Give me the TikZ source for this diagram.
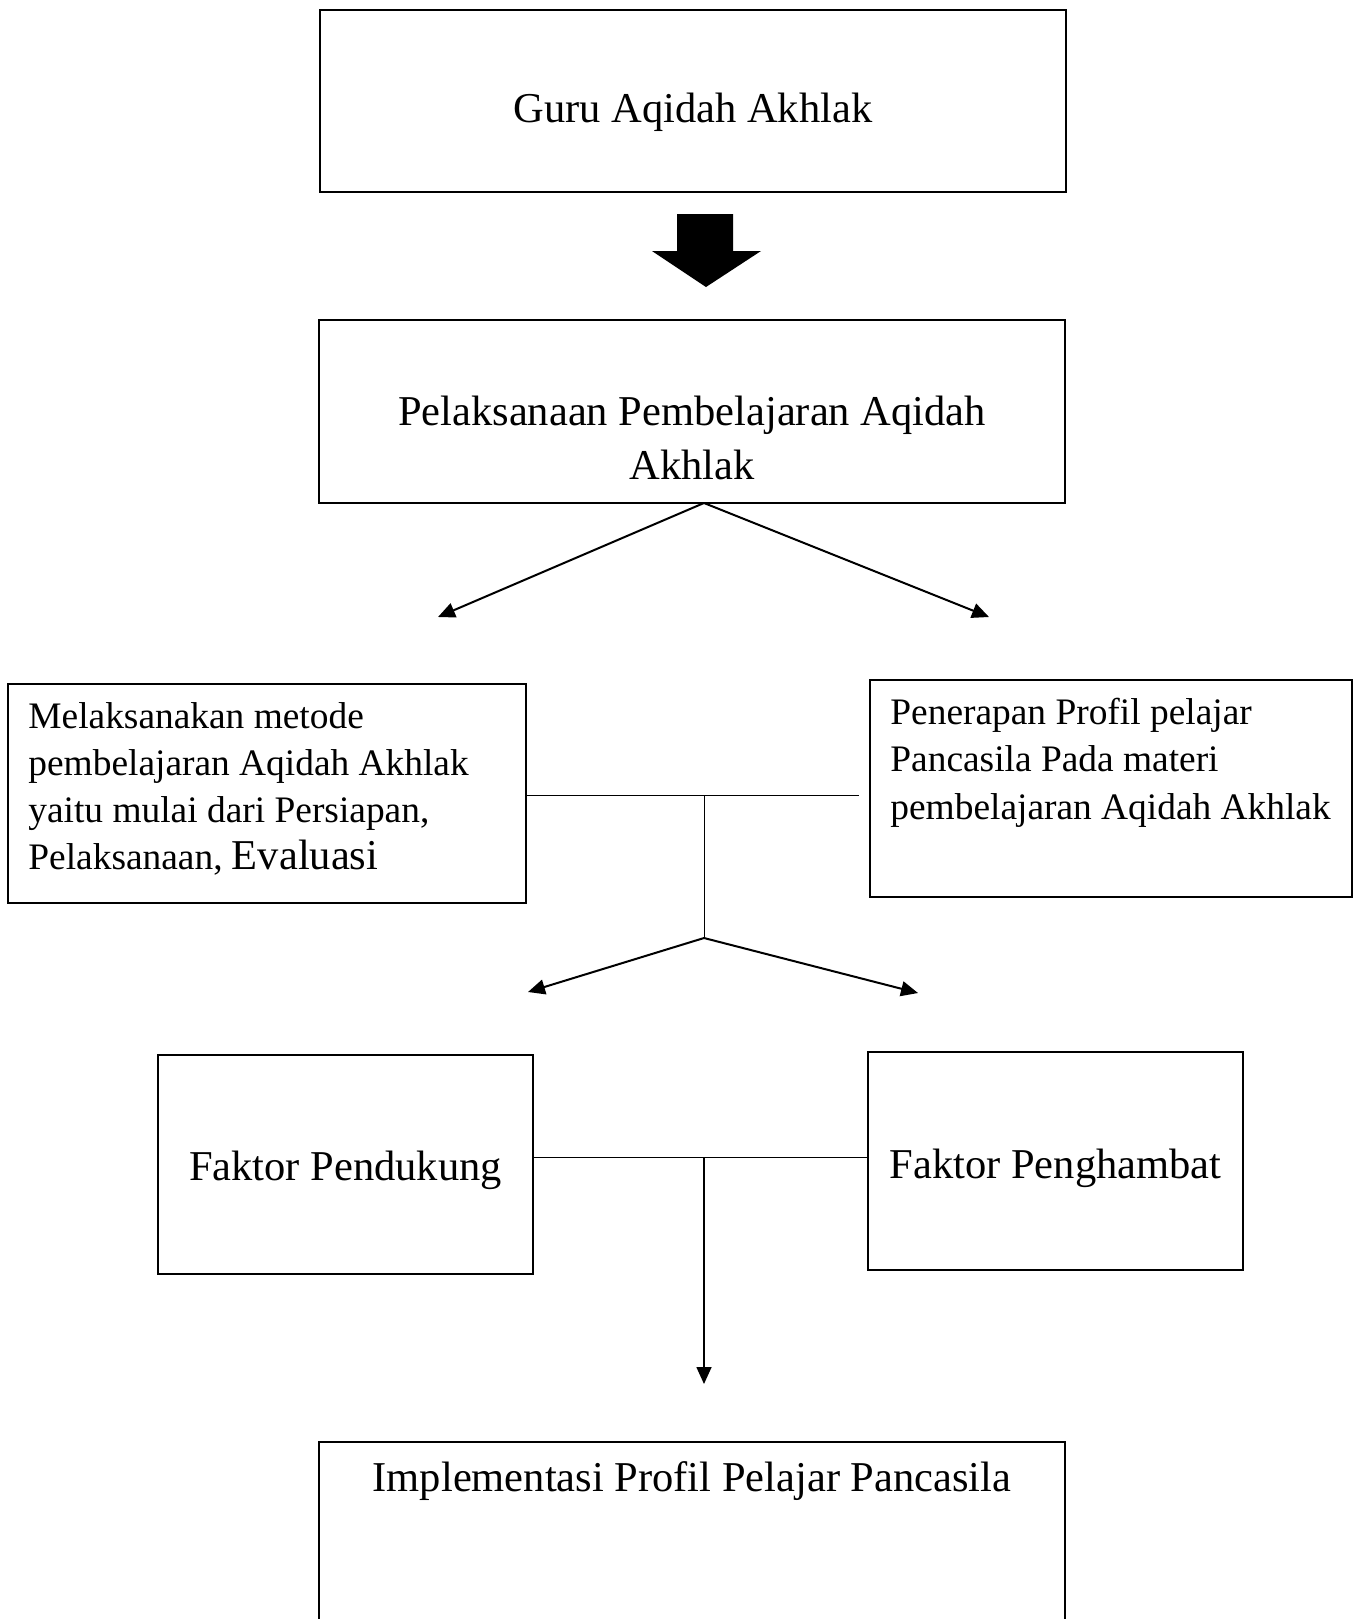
\documentclass[tikz,border=0pt]{standalone}
\usepackage{fontspec}
\setmainfont{Liberation Serif}
\usetikzlibrary{arrows.meta,positioning}
\tikzset{
  box/.style={draw,rectangle,line width=0.6pt,inner sep=0pt},
  big/.style={font=\fontsize{21.25}{27}\selectfont},
  small/.style={font=\fontsize{18.7}{23.6}\selectfont},
  txt/.style={inner sep=0pt},
  arr/.style={line width=1pt,-{Triangle[length=8.5pt,width=7.5pt]}},
  link/.style={line width=0.5pt}
}
\begin{document}
\begin{tikzpicture}[x=0.5pt,y=-0.5pt]
\useasboundingbox (0,0) rectangle (1358,1619);
\clip (0,0) rectangle (1358,1619);
% boxes
\node[box,minimum width=373pt,minimum height=91pt] (guru) at (693,101) {};
\node[txt,big] (guru-txt) at (693,112) {Guru Aqidah Akhlak};
\node[box,minimum width=373pt,minimum height=91.5pt] (pelaksanaan) at (692,411.5) {};
\node[txt,big,anchor=north,align=center] (pelaksanaan-txt) at (692,396) {Pelaksanaan Pembelajaran Aqidah\\Akhlak};
\node[box,minimum width=259pt,minimum height=109.5pt] (metode) at (267,793.5) {};
\node[txt,small,anchor=north west,align=left] (metode-txt) at (28,702) {Melaksanakan metode\\pembelajaran Aqidah Akhlak\\yaitu mulai dari Persiapan,\\Pelaksanaan, {\fontsize{21.25}{27}\selectfont Evaluasi}};
\node[box,minimum width=241pt,minimum height=108.5pt] (penerapan) at (1111,788.5) {};
\node[txt,small,anchor=north west,align=left] (penerapan-txt) at (890,698) {Penerapan Profil pelajar\\Pancasila Pada materi\\pembelajaran Aqidah Akhlak};
\node[box,minimum width=187.5pt,minimum height=109.5pt] (pendukung) at (345.5,1164.5) {};
\node[txt,big] (pendukung-txt) at (345.5,1170.5) {Faktor Pendukung};
\node[box,minimum width=187.5pt,minimum height=109pt] (penghambat) at (1055.5,1161) {};
\node[txt,big] (penghambat-txt) at (1055.5,1168) {Faktor Penghambat};
\node[box,minimum width=373pt,minimum height=129pt] (implementasi) at (692,1571) {};
\node[txt,big,anchor=north] (implementasi-txt) at (692,1461) {Implementasi Profil Pelajar Pancasila};
% block arrow
\fill (677,214) -- (733,214) -- (733,251) -- (761,251) -- (706,287) -- (652,251) -- (677,251) -- cycle;
% connectors
\coordinate (top) at (704,503);
\coordinate (a1) at (438,617);
\coordinate (a2) at (989,617);
\draw[arr] (top) -- (a1);
\draw[arr] (top) -- (a2);
\coordinate (j1) at (704,795);
\coordinate (j2) at (704,938);
\draw[link] (metode.east |- j1) -- (j1) -- ([xshift=-5pt]penerapan.west |- j1);
\draw[link] (j1) -- (j2);
\coordinate (b1) at (528,992);
\coordinate (b2) at (918,993);
\draw[arr] (j2) -- (b1);
\draw[arr] (j2) -- (b2);
\coordinate (j3) at (704,1157);
\coordinate (c1) at (704,1384);
\draw[link] (pendukung.east |- j3) -- (penghambat.west |- j3);
\draw[arr,line width=0.8pt] (j3) -- (c1);
\end{tikzpicture}
\end{document}
